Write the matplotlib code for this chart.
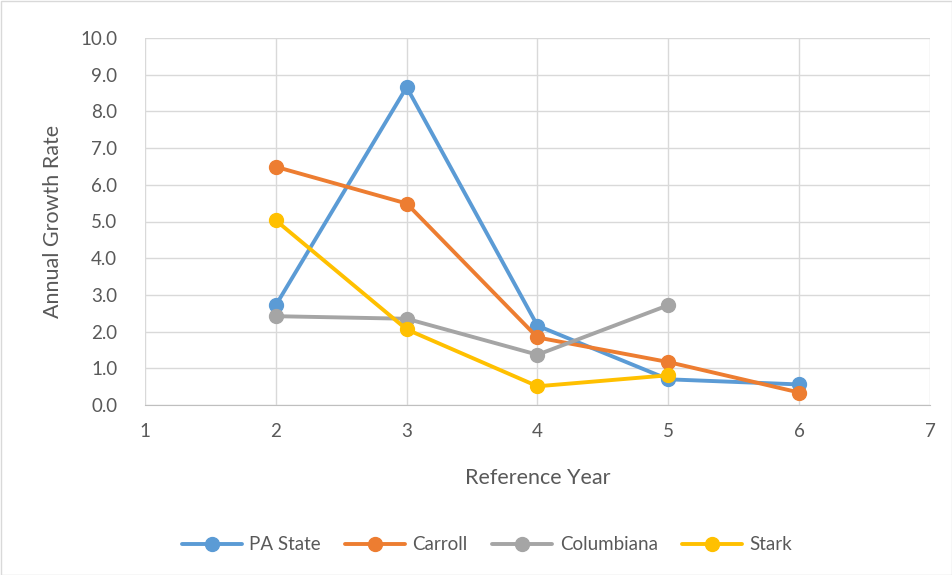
import matplotlib
matplotlib.use("Agg")
import matplotlib.pyplot as plt
from matplotlib.patches import Rectangle

plt.rcParams['font.family'] = ['Lato', 'DejaVu Sans']

years_pa = [2, 3, 4, 5, 6]
pa_state = [2.72, 8.66, 2.16, 0.70, 0.56]
years_carroll = [2, 3, 4, 5, 6]
carroll = [6.49, 5.49, 1.84, 1.17, 0.34]
years_col = [2, 3, 4, 5]
columbiana = [2.42, 2.35, 1.37, 2.72]
years_stark = [2, 3, 4, 5]
stark = [5.03, 2.06, 0.51, 0.81]

series = [
    ("PA State", years_pa, pa_state, "#5B9BD5"),
    ("Carroll", years_carroll, carroll, "#ED7D31"),
    ("Columbiana", years_col, columbiana, "#A5A5A5"),
    ("Stark", years_stark, stark, "#FFC000"),
]

W, H = 953, 575
fig = plt.figure(figsize=(W/100, H/100), dpi=100)
ax = fig.add_axes([145/W, 1-405/H, (930-145)/W, (405-38)/H])

for name, xs, ys, c in series:
    ax.plot(xs, ys, color=c, lw=2.8, marker='o', markersize=10, label=name,
            solid_capstyle='round', zorder=3)

ax.set_xlim(1, 7)
ax.set_ylim(0, 10)
ax.set_xticks(range(1, 8))
ax.set_yticks([i for i in range(0, 11)])
ax.set_yticklabels([f"{i:.1f}" for i in range(0, 11)])
ax.grid(True, color="#D9D9D9", lw=1.0, zorder=0)
for s in ['top', 'right', 'left']:
    ax.spines[s].set_visible(False)
ax.spines['bottom'].set_color("#BFBFBF")
ax.tick_params(axis='both', length=0, labelsize=13.5, colors="#595959")
ax.tick_params(axis='y', pad=20)
ax.tick_params(axis='x', pad=13)
ax.set_xlabel("Reference Year", fontsize=15.5, color="#595959", labelpad=20)
ax.set_ylabel("Annual Growth Rate", fontsize=15.5, color="#595959", labelpad=12)

leg = fig.legend(loc='center', bbox_to_anchor=(487/W, 1-545/H), ncol=4, frameon=False,
                 fontsize=13.5, handlelength=3.2, columnspacing=1.3, handletextpad=0.4)
for t in leg.get_texts():
    t.set_color("#595959")

fig.patches.append(Rectangle((0.5/W, 0.5/H), 1-1.5/W, 1-1.5/H, transform=fig.transFigure,
                             fill=False, edgecolor="#D9D9D9", lw=1))

fig.savefig("out.png", dpi=100)
